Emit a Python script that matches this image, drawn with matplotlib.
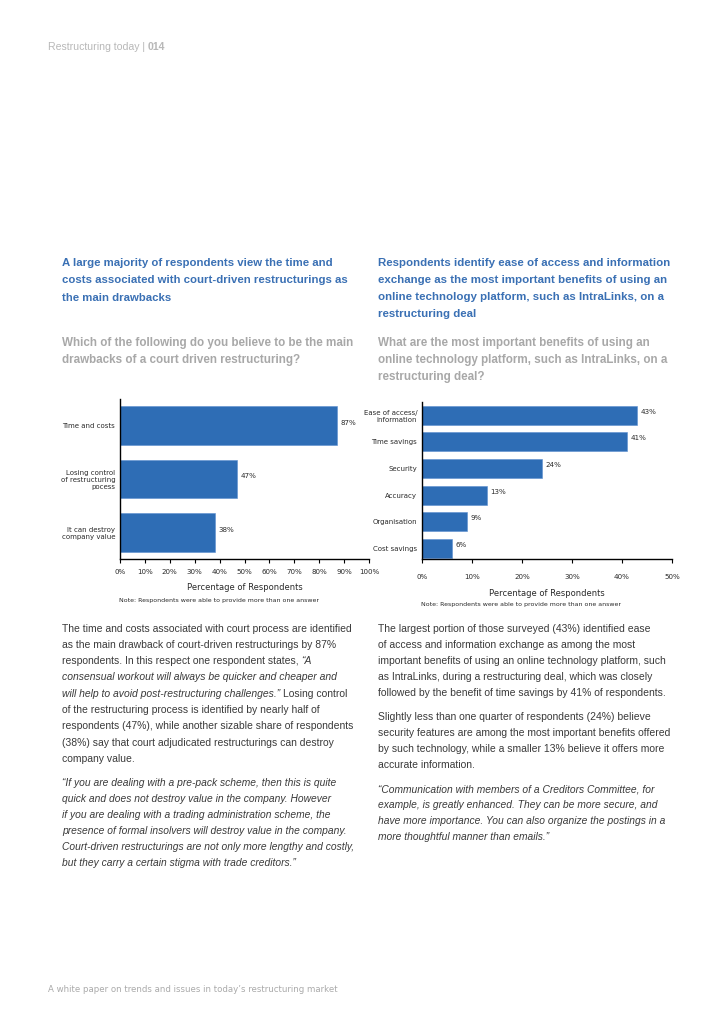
import matplotlib.pyplot as plt

# data
left_labels = ["Time and costs", "Losing control\nof restructuring\npocess", "It can destroy\ncompany value"]
left_values = [87, 47, 38]
left_ticks = [0, 10, 20, 30, 40, 50, 60, 70, 80, 90, 100]

right_labels = ["Ease of access/\ninformation", "Time savings", "Security", "Accuracy", "Organisation", "Cost savings"]
right_values = [43, 41, 24, 13, 9, 6]
right_ticks = [0, 10, 20, 30, 40, 50]

W, H = 728, 1030
BAR = "#2e6db5"
BLUE = "#3a70b4"
GREY_Q = "#a8a8a8"
BODY = "#3a3a3a"
LIGHT = "#b8b8b8"

plt.rcParams['font.family'] = ['Liberation Sans', 'DejaVu Sans']
fig = plt.figure(figsize=(W / 100, H / 100), dpi=100)
fig.patch.set_facecolor("white")


def fx(x):
    return x / W


def fy(y):
    return 1 - y / H


def txt(x, y, s, **kw):
    # y is the baseline in pixels from the top
    kw.setdefault("va", "baseline")
    return fig.text(fx(x), fy(y), s, **kw)


def runs(x, y, parts, **kw):
    # draw text pieces in different styles one after the other
    r = fig.canvas.get_renderer()
    probe = fig.text(0, 0, "a a", **kw)
    probe2 = fig.text(0, 0, "aa", **kw)
    sp = probe.get_window_extent(r).width - probe2.get_window_extent(r).width
    probe.remove()
    probe2.remove()
    cur = x
    for part in parts:
        s, style, gap = part[:3]
        weight = part[3] if len(part) > 3 else "normal"
        t = txt(cur, y, s, style=style, weight=weight, **kw)
        bb = t.get_window_extent(r)
        cur = bb.x1 + (sp if gap else 0)


def bar_chart(box, labels, values, ticks, xmax, ylim, tick_pad, lab_pad, dy):
    l, t, r, b = box
    ax = fig.add_axes([fx(l), fy(b), fx(r - l), (b - t) / H])
    pos = list(range(len(values)))
    ax.barh(pos, values, height=0.72, color=BAR, edgecolor="#5b8fcf", linewidth=0.4)
    ax.set_ylim(*ylim)
    ax.set_xlim(0, xmax)
    ax.set_yticks(pos)
    ax.set_yticklabels(labels, fontsize=5.0, color="#2a2a2a", family="DejaVu Sans",
                       multialignment="right")
    ax.tick_params(axis="y", length=0, pad=3.5)
    ax.set_xticks(ticks)
    ax.set_xticklabels([f"{v}%" for v in ticks], fontsize=5.1, color="#2a2a2a", family="DejaVu Sans")
    ax.tick_params(axis="x", length=3, width=0.8, direction="out", pad=tick_pad)
    for s in ["top", "right"]:
        ax.spines[s].set_visible(False)
    for s in ["left", "bottom"]:
        ax.spines[s].set_linewidth(1.0)
        ax.spines[s].set_color("black")
    for p, v in zip(pos, values):
        ax.annotate(f"{v}%", (v, p), xytext=(2.5, dy), textcoords="offset points",
                    fontsize=5.1, color="#2a2a2a", family="DejaVu Sans", va="center")
    ax.set_xlabel("Percentage of Respondents", fontsize=6.0, color="#2a2a2a",
                  family="DejaVu Sans", labelpad=lab_pad)
    ax.set_facecolor("white")
    return ax


# header / footer
runs(48, 50, [("Restructuring today |", "normal", True),
              ("014", "normal", False, "bold")], fontsize=7.6, color=LIGHT)
txt(48, 992, "A white paper on trends and issues in today\u2019s restructuring market",
    fontsize=6.25, color="#aaaaaa", family="DejaVu Sans")

# headings
left_head = ["A large majority of respondents view the time and",
             "costs associated with court-driven restructurings as",
             "the main drawbacks"]
for i, s in enumerate(left_head):
    txt(62, 266 + i * 17.3, s, fontsize=8.2, color=BLUE, weight="bold")

right_head = ["Respondents identify ease of access and information",
              "exchange as the most important benefits of using an",
              "online technology platform, such as IntraLinks, on a",
              "restructuring deal"]
for i, s in enumerate(right_head):
    txt(378, 266 + i * 17.0, s, fontsize=8.25, color=BLUE, weight="bold")

left_q = ["Which of the following do you believe to be the main",
          "drawbacks of a court driven restructuring?"]
for i, s in enumerate(left_q):
    txt(62, 346 + i * 17.3, s, fontsize=8.35, color=GREY_Q, weight="bold")

right_q = ["What are the most important benefits of using an",
           "online technology platform, such as IntraLinks, on a",
           "restructuring deal?"]
for i, s in enumerate(right_q):
    txt(378, 346 + i * 17.0, s, fontsize=8.35, color=GREY_Q, weight="bold")

# charts
bar_chart((120, 399, 369, 559), left_labels, left_values, left_ticks, 100,
          (2.5, -0.5), 4, 6, 2)
bar_chart((422, 402, 672, 559), right_labels, right_values, right_ticks, 50,
          (5.4, -0.5), 8, 6, 2.5)

note = "Note: Respondents were able to provide more than one answer"
fig.text(fx(219), fy(602), note, fontsize=4.5, color="#2a2a2a", family="DejaVu Sans",
         ha="center", va="baseline")
fig.text(fx(521), fy(606), note, fontsize=4.5, color="#2a2a2a", family="DejaVu Sans",
         ha="center", va="baseline")

# body text, left column
bk = dict(fontsize=7.5, color=BODY)
ik = dict(fontsize=7.4, color=BODY)
left_body = [
    [("The time and costs associated with court process are identified", "normal", False)],
    [("as the main drawback of court-driven restructurings by 87%", "normal", False)],
    [("respondents. In this respect one respondent states,", "normal", True), ("\u201cA", "italic", False)],
    [("consensual workout will always be quicker and cheaper and", "italic", False)],
    [("will help to avoid post-restructuring challenges.\u201d", "italic", True), ("Losing control", "normal", False)],
    [("of the restructuring process is identified by nearly half of", "normal", False)],
    [("respondents (47%), while another sizable share of respondents", "normal", False)],
    [("(38%) say that court adjudicated restructurings can destroy", "normal", False)],
    [("company value.", "normal", False)],
]
for i, parts in enumerate(left_body):
    runs(62, 631.5 + i * 16.3, parts, **bk)

left_quote = ["\u201cIf you are dealing with a pre-pack scheme, then this is quite",
              "quick and does not destroy value in the company. However",
              "if you are dealing with a trading administration scheme, the",
              "presence of formal insolvers will destroy value in the company.",
              "Court-driven restructurings are not only more lengthy and costly,",
              "but they carry a certain stigma with trade creditors.\u201d"]
for i, s in enumerate(left_quote):
    txt(62, 785.5 + i * 16.1, s, style="italic", **ik)

# body text, right column
right_p1 = ["The largest portion of those surveyed (43%) identified ease",
            "of access and information exchange as among the most",
            "important benefits of using an online technology platform, such",
            "as IntraLinks, during a restructuring deal, which was closely",
            "followed by the benefit of time savings by 41% of respondents."]
for i, s in enumerate(right_p1):
    txt(378, 632.5 + i * 16.0, s, **bk)

right_p2 = ["Slightly less than one quarter of respondents (24%) believe",
            "security features are among the most important benefits offered",
            "by such technology, while a smaller 13% believe it offers more",
            "accurate information."]
for i, s in enumerate(right_p2):
    txt(378, 720.5 + i * 16.0, s, **bk)

right_q3 = ["\u201cCommunication with members of a Creditors Committee, for",
            "example, is greatly enhanced. They can be more secure, and",
            "have more importance. You can also organize the postings in a",
            "more thoughtful manner than emails.\u201d"]
for i, s in enumerate(right_q3):
    txt(378, 792.5 + i * 16.0, s, style="italic", **ik)

fig.savefig("out.png", dpi=100, facecolor="white")
